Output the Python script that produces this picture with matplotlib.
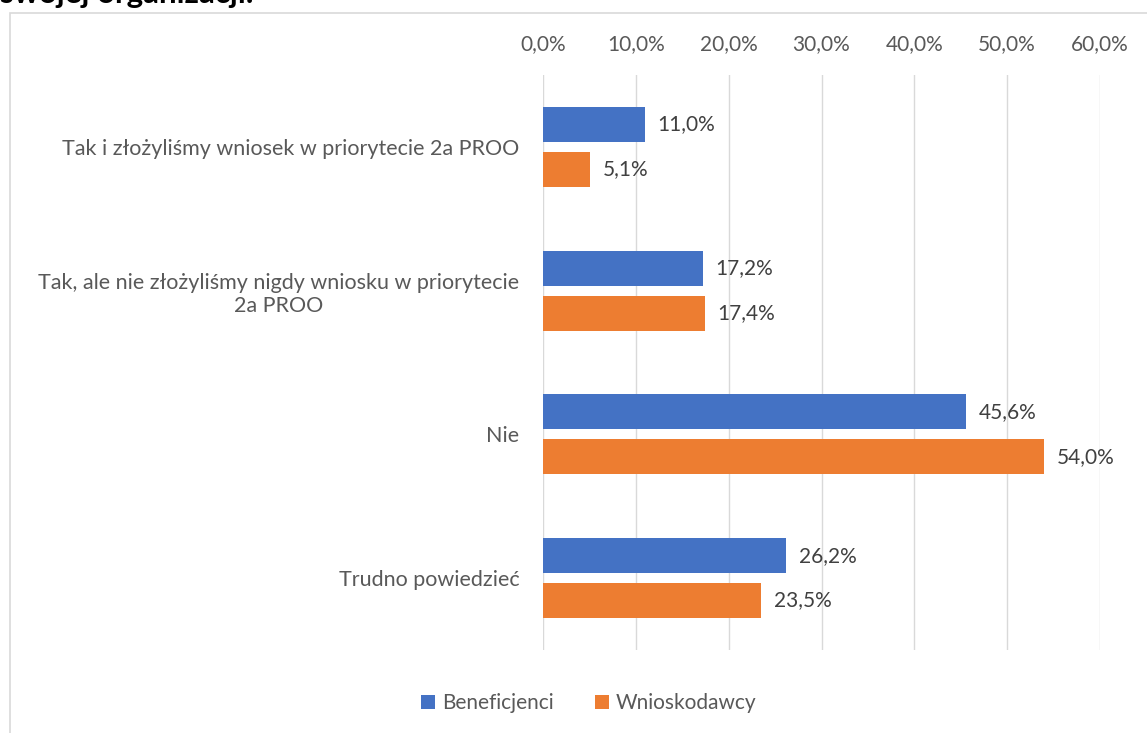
import matplotlib.pyplot as plt
from matplotlib.patches import Rectangle
import numpy as np

plt.rcParams['font.family'] = ['Lato', 'DejaVu Sans']

categories = [
    "Tak i złożyliśmy wniosek w priorytecie 2a PROO",
    "Tak, ale nie złożyliśmy nigdy wniosku w priorytecie\n2a PROO",
    "Nie",
    "Trudno powiedzieć",
]
beneficjenci = [11.0, 17.2, 45.6, 26.2]
wnioskodawcy = [5.1, 17.4, 54.0, 23.5]
series_names = ["Beneficjenci", "Wnioskodawcy"]
ticks = [0, 10, 20, 30, 40, 50, 60]

blue = "#4472C4"
orange = "#ED7D31"
grey_text = "#595959"
fs = 15

W, H = 1147, 733
fig = plt.figure(figsize=(W / 100, H / 100), dpi=100)

# chart frame (extends past the right and bottom edges)
fig.patches.append(Rectangle((10 / W, -0.1), 1.2, 1 - 13 / H + 0.1,
                             transform=fig.transFigure, fill=False,
                             edgecolor="#D9D9D9", linewidth=1.2))

# title, mostly cut off at the top
fig.text(0.0, 1 - 3 / H, "swojej organizacji.", fontsize=22.5, fontweight="bold",
         color="black", ha="left", va="baseline")

ax = fig.add_axes([543 / W, 1 - 650 / H, (1100 - 543) / W, 575 / H])

y = np.arange(len(categories))
off = 0.156
h = 0.243
b1 = ax.barh(y - off, beneficjenci, height=h, color=blue, label=series_names[0], zorder=3)
b2 = ax.barh(y + off, wnioskodawcy, height=h, color=orange, label=series_names[1], zorder=3)

for bars, vals in ((b1, beneficjenci), (b2, wnioskodawcy)):
    for bar, v in zip(bars, vals):
        ax.annotate(f"{v:.1f}%".replace(".", ","),
                    (v, bar.get_y() + bar.get_height() / 2),
                    xytext=(9, 0), textcoords="offset points",
                    ha="left", va="center", fontsize=fs, color="#404040")

ax.set_xlim(0, 60)
ax.set_ylim(len(categories) - 0.5, -0.5)
ax.set_xticks(ticks)
ax.set_xticklabels([f"{t:.1f}%".replace(".", ",") for t in ticks])
ax.xaxis.tick_top()
ax.tick_params(axis="x", length=0, pad=15, labelsize=fs, labelcolor=grey_text)
ax.set_yticks(y)
ax.set_yticklabels(categories, multialignment="center", fontsize=15.5)
ax.tick_params(axis="y", length=0, pad=17, labelcolor=grey_text)
ax.grid(axis="x", color="#D9D9D9", linewidth=1, zorder=0)
for s in ax.spines.values():
    s.set_visible(False)

fig.legend(handles=[b1, b2], labels=series_names, loc="center",
           bbox_to_anchor=(589 / W, 1 - 703 / H), ncol=2, frameon=False,
           fontsize=fs, labelcolor=grey_text, handlelength=0.65,
           handleheight=0.65, handletextpad=0.35, columnspacing=2.0)

fig.savefig("out.png", dpi=100)
